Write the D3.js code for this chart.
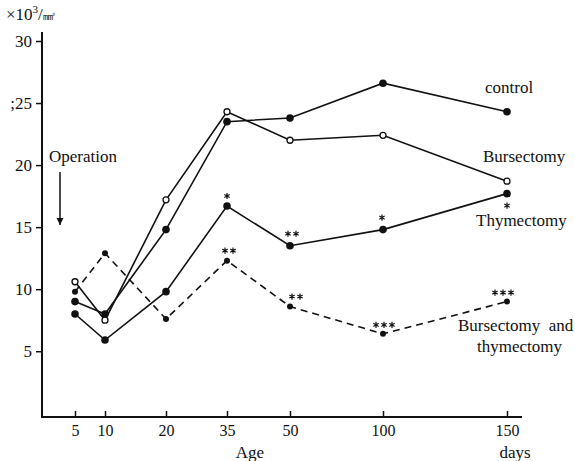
<!DOCTYPE html>
<html><head><meta charset="utf-8">
<script src="https://cdn.jsdelivr.net/npm/d3@7"></script>
<style>body{margin:0;background:#fff}svg{display:block}svg text{font-family:"Liberation Serif","Times New Roman",serif !important;fill:#111}</style>
</head><body>
<svg id="c" width="575" height="461"></svg>
<script>
const ages = [5, 10, 20, 35, 50, 100, 150];
const control = [9.0, 8.0, 14.8, 23.5, 23.8, 26.6, 24.3];
const bursectomy = [10.6, 7.5, 17.2, 24.3, 22.0, 22.4, 18.7];
const thymectomy = [8.0, 5.9, 9.8, 16.7, 13.5, 14.8, 17.7];
const bursThym = [9.8, 12.9, 7.6, 12.3, 8.6, 6.4, 9.0];
const thymStars = [0, 0, 0, 1, 2, 1, 1];
const btStars = [0, 0, 0, 2, 2, 3, 3];
const yTicks = [5, 10, 15, 20, 25, 30];
const yTickLabels = ["5", "10", "15", "20", ";25", "30"];

const svg = d3.select("#c");
const x = d3.scaleLinear().domain(ages).range([75, 105, 166, 227, 290, 383, 507]);
const y = d3.scaleLinear().domain([-0.3, 30]).range([417, 41]);

// y axis
const ya = svg.append("g").attr("transform", "translate(42,0)")
  .call(d3.axisLeft(y).tickValues(yTicks).tickSize(6).tickPadding(4)
    .tickFormat((d, i) => yTickLabels[i]));
ya.select(".domain").remove();
ya.selectAll(".tick line").attr("stroke", "#111").attr("stroke-width", 1.5);
ya.selectAll(".tick text").style("font-size", "17px");
svg.append("line").attr("x1", 42).attr("x2", 42).attr("y1", 32).attr("y2", 418)
  .attr("stroke", "#111").attr("stroke-width", 2);

// x axis
const xa = svg.append("g").attr("transform", "translate(0,417)")
  .call(d3.axisBottom(x).tickValues(ages).tickSizeInner(-6).tickSizeOuter(0).tickPadding(8)
    .tickFormat(d3.format("d")));
xa.select(".domain").remove();
xa.selectAll(".tick line").attr("stroke", "#111").attr("stroke-width", 1.5);
xa.selectAll(".tick text").style("font-size", "16px");
svg.append("line").attr("x1", 41).attr("x2", 522).attr("y1", 417).attr("y2", 417)
  .attr("stroke", "#111").attr("stroke-width", 2);

svg.append("text").attr("x", 250).attr("y", 458).attr("text-anchor", "middle")
  .style("font-size", "17px").text("Age");
svg.append("text").attr("x", 515).attr("y", 458).attr("text-anchor", "middle")
  .style("font-size", "17px").text("days");
svg.append("text").attr("x", 6).attr("y", 20).style("font-size", "17px")
  .html('×10<tspan dy="-7" style="font-size:11px">3</tspan><tspan dy="7">/</tspan><tspan style="font-size:12px">㎣</tspan>');

const line = d3.line().x((d, i) => x(ages[i])).y(d => y(d));
function series(vals, dashed, open) {
  svg.append("path").datum(vals).attr("d", line).attr("fill", "none")
    .attr("stroke", "#111").attr("stroke-width", 1.6)
    .attr("stroke-dasharray", dashed ? "7,5" : null);
  svg.selectAll(null).data(vals).enter().append("circle")
    .attr("cx", (d, i) => x(ages[i])).attr("cy", d => y(d))
    .attr("r", open ? 3 : (dashed ? 3 : 3.8))
    .attr("fill", open ? "#fff" : "#111").attr("stroke", "#111").attr("stroke-width", open ? 1.3 : 0);
}
series(thymectomy, false, false);
series(bursThym, true, false);
series(control, false, false);
series(bursectomy, false, true);

const ast = d3.symbol(d3.symbolAsterisk, 26)();
function stars(vals, counts, offs) {
  vals.forEach((v, i) => {
    const n = counts[i];
    for (let k = 0; k < n; k++) {
      const cx = x(ages[i]) + offs[i][0] + (k - (n - 1) / 2) * 8;
      const cy = y(v) + offs[i][1];
      svg.append("path").attr("d", ast).attr("transform", `translate(${cx},${cy})`)
        .attr("fill", "none").attr("stroke", "#111").attr("stroke-width", 1.2);
    }
  });
}
stars(thymectomy, thymStars, [[0,0],[0,0],[0,0],[0,-10],[2,-12],[-1,-12],[0,12]]);
stars(bursThym, btStars, [[0,0],[0,0],[0,0],[2,-10],[6,-10],[1,-9],[-4,-9]]);

const lab = (t, xx, yy) => svg.append("text").attr("x", xx).attr("y", yy).style("font-size", "17px").text(t);
lab("control", 485, 93);
lab("Bursectomy", 483, 162);
lab("Thymectomy", 476, 226);
svg.append("text").attr("x", 458).attr("y", 331).style("font-size", "17px").style("white-space", "pre").text("Bursectomy  and");
lab("thymectomy", 477, 352);
lab("Operation", 49, 162);

// arrow
svg.append("defs").append("marker").attr("id", "ah").attr("viewBox", "0 0 10 10")
  .attr("refX", 10).attr("refY", 5).attr("markerWidth", 7).attr("markerHeight", 12)
  .attr("markerUnits", "userSpaceOnUse").attr("orient", "auto")
  .append("path").attr("d", "M0,0L10,5L0,10Z").attr("fill", "#111");
svg.append("line").attr("x1", 60).attr("x2", 60).attr("y1", 172).attr("y2", 225)
  .attr("stroke", "#111").attr("stroke-width", 1.5).attr("marker-end", "url(#ah)");
</script>
</body></html>
